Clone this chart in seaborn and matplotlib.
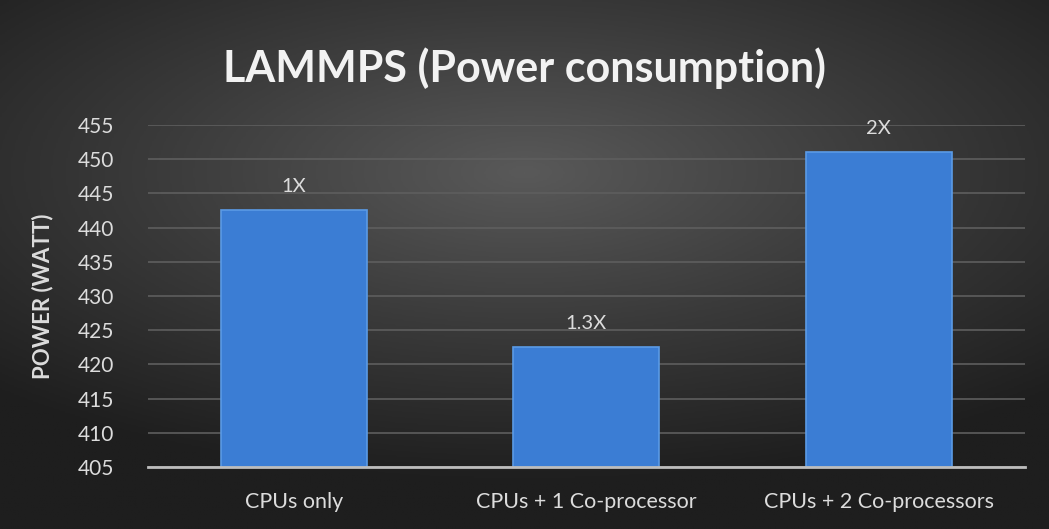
import numpy as np
import pandas as pd
import matplotlib
matplotlib.use("Agg")
import matplotlib.pyplot as plt
import seaborn as sns

categories = ["CPUs only", "CPUs + 1 Co-processor", "CPUs + 2 Co-processors"]
power_watt = [442.5, 422.5, 451.0]
speedup_labels = ["1X", "1.3X", "2X"]
y_ticks = [405, 410, 415, 420, 425, 430, 435, 440, 445, 450, 455]

sns.set_style("dark")
plt.rcParams["font.family"] = ["Lato", "DejaVu Sans"]

text_col = "#dcdcdc"
bar_col = "#3b7dd4"

fig = plt.figure(figsize=(10.49, 5.29), dpi=100)

# radial dark gradient background
bg = fig.add_axes([0, 0, 1, 1], zorder=-10)
yy, xx = np.mgrid[-1:1:300j, -1:1:600j]
r = np.sqrt((xx * 0.9) ** 2 + ((yy + 0.35) * 1.1) ** 2)
bg.imshow(np.clip(r, 0, 1.3), cmap=matplotlib.colors.LinearSegmentedColormap.from_list(
    "bg", ["#595959", "#3a3a3a", "#1e1e1e"]), aspect="auto", extent=[0, 1, 0, 1])
bg.axis("off")

ax = fig.add_axes([0.141, 0.117, 0.836, 0.647])
ax.patch.set_alpha(0)
df = pd.DataFrame({"cat": categories, "power": power_watt})
sns.barplot(data=df, x="cat", y="power", color=bar_col, width=0.5,
            saturation=1, edgecolor="#5b9be6", linewidth=1.2, ax=ax, zorder=3)

ax.set_ylim(405, 455)
ax.set_yticks(y_ticks)
ax.grid(axis="y", color="#5e5e5e", linewidth=1.2, zorder=0)
ax.grid(axis="x", visible=False)
for s in ["top", "right", "left"]:
    ax.spines[s].set_visible(False)
ax.spines["bottom"].set_color("#bdbdbd")
ax.spines["bottom"].set_linewidth(2)
ax.spines["bottom"].set_zorder(4)

ax.tick_params(axis="both", colors=text_col, length=0)
ax.tick_params(axis="y", labelsize=15, pad=24)
ax.tick_params(axis="x", labelsize=15.5, pad=18)
ax.set_xlabel("")
ax.set_ylabel("POWER (WATT)", color=text_col, fontsize=16, fontweight="bold", labelpad=18)

ax.bar_label(ax.containers[0], labels=speedup_labels, padding=11, color=text_col, fontsize=14.5)

fig.text(0.5, 0.872, "LAMMPS (Power consumption)", ha="center", va="center",
         color="#f2f2f2", fontsize=31, fontweight="bold")

fig.savefig("out.png", dpi=100)
